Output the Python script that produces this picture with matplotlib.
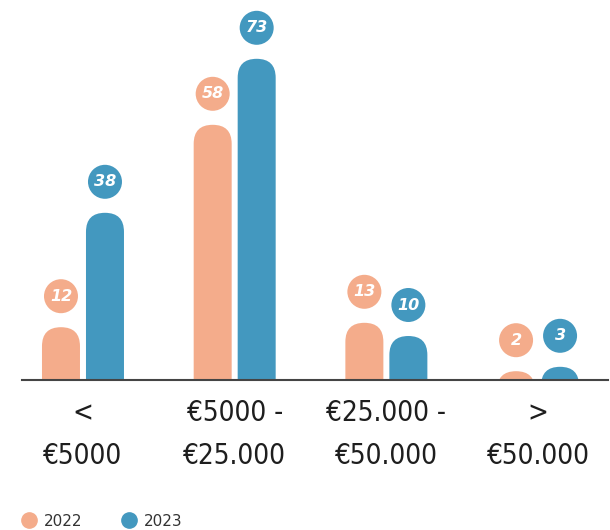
import matplotlib
matplotlib.use("Agg")
import matplotlib.pyplot as plt
from matplotlib.patches import FancyBboxPatch
from matplotlib.lines import Line2D

categories = ["<\n€5000", "€5000 -\n€25.000", "€25.000 -\n€50.000", ">\n€50.000"]
years = ["2022", "2023"]
values_2022 = [12, 58, 13, 2]
values_2023 = [38, 73, 10, 3]

c22 = "#F4AC8B"
c23 = "#4398BF"

W, H = 610, 530
fig = plt.figure(figsize=(W / 100, H / 100), dpi=100)
ax = fig.add_axes([22 / W, 150 / H, 586 / W, 380 / H])
xmin, xmax = -0.402, 3.461
ymin, ymax = 0, 380 / 4.4
ax.set_xlim(xmin, xmax)
ax.set_ylim(ymin, ymax)

px_x = (xmax - xmin) / 586.0
px_y = (ymax - ymin) / 380.0
aspect = px_y / px_x

bw = 38 * px_x
off = 22 * px_x
r = bw / 2

for vals, col, sgn in [(values_2022, c22, -1), (values_2023, c23, 1)]:
    for i, v in enumerate(vals):
        xc = i + sgn * off
        bottom = -40 * px_y
        patch = FancyBboxPatch((xc - bw / 2, bottom), bw, v - bottom,
                               boxstyle=f"round,pad=0,rounding_size={r}",
                               mutation_aspect=aspect, facecolor=col, edgecolor="none",
                               clip_on=True)
        ax.add_patch(patch)
        yc = v + 31 * px_y
        ax.scatter([xc], [yc], s=(34 * 0.72) ** 2, color=col, edgecolors="none",
                   zorder=3, clip_on=False)
        ax.text(xc, yc, str(v), ha="center", va="center", color="white",
                fontsize=11.5, fontweight="bold", fontstyle="italic", zorder=4)

for s in ["top", "right", "left"]:
    ax.spines[s].set_visible(False)
ax.spines["bottom"].set_color("#444444")
ax.spines["bottom"].set_linewidth(1.5)
ax.set_yticks([])
ax.set_xticks(range(len(categories)))
ax.set_xticklabels(categories, fontsize=20, family="DejaVu Sans", fontstretch="condensed",
                   fontweight="medium", color="#1e1e1e", linespacing=1.65)
ax.tick_params(axis="x", length=0, pad=14)

handles = [Line2D([], [], marker="o", linestyle="none", markersize=11, color=c22),
           Line2D([], [], marker="o", linestyle="none", markersize=11, color=c23)]
fig.legend(handles, years, loc="center left", bbox_to_anchor=(0 / W, 9 / H),
           ncol=2, frameon=False, fontsize=11, handletextpad=0.0, columnspacing=2.0,
           labelcolor="#333333")

fig.savefig("out.png", dpi=100)
